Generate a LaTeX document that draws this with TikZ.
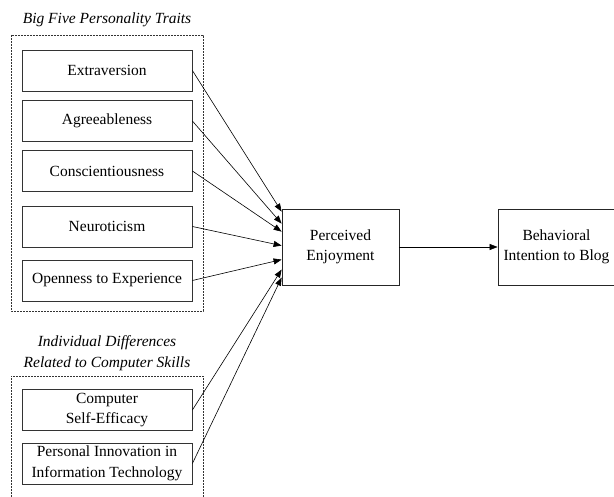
\documentclass[tikz,border=0pt]{standalone}
\usepackage{fontspec}
\setmainfont{Liberation Serif}
\usetikzlibrary{arrows.meta}
\begin{document}
\begin{tikzpicture}[x=1pt,y=-1pt,
  every node/.style={font=\fontsize{15.5}{20.5}\selectfont},
  trait/.style={draw=black!80, line width=0.8pt, minimum width=170pt, minimum height=41pt, inner sep=0pt, align=center},
  bigbox/.style={draw=black!85, line width=0.8pt, minimum width=117pt, minimum height=76pt, inner sep=0pt, align=center},
  group/.style={draw=black!80, line width=0.6pt, dash pattern=on 2pt off 1pt},
  grouptitle/.style={font=\fontsize{15.5}{20.5}\selectfont\itshape, align=center, inner sep=0pt},
  arr/.style={-{Triangle[length=8pt,width=6pt]}, line width=0.6pt, draw=black}]
\useasboundingbox (0,0) rectangle (614,497);
\fill[white] (0,0) rectangle (614,497);
% groups
\draw[group] (11,35) rectangle (203,311);
\draw[group] (11,500) -- (11,376) -- (203,376) -- (203,500);
\node[grouptitle] (t1) at (107,20) {Big Five Personality Traits};
\node[grouptitle] (t2) at (107,353) {Individual Differences\\Related to Computer Skills};
% trait boxes
\node[trait] (E) at (107,70.5) {Extraversion};
\node[trait] (A) at (107,121) {Agreeableness};
\node[trait] (C) at (107,171) {Conscientiousness};
\node[trait] (N) at (107,226.5) {Neuroticism};
\node[trait] (O) at (107,280.5) {Openness to Experience};
\node[trait] (CSE) at (107,410) {Computer\\Self-Efficacy};
\node[trait] (PIIT) at (107,463.5) {Personal Innovation in\\Information Technology};
% main boxes
\node[bigbox] (PE) at (340.5,247) {Perceived\\Enjoyment};
\node[bigbox] (BI) at (556.5,247) {Behavioral\\Intention to Blog};
% arrows
\draw[arr] (E.east) -- ([yshift=-3pt]PE.north west);
\draw[arr] (A.east) -- ([yshift=-15pt]PE.north west);
\draw[arr] (C.east) -- ([yshift=-23pt]PE.north west);
\draw[arr] (N.east) -- ([yshift=-37pt]PE.north west);
\draw[arr] (O.east) -- ([yshift=-51pt]PE.north west);
\draw[arr] (CSE.east) -- ([yshift=-61pt]PE.north west);
\draw[arr] (PIIT.east) -- ([yshift=-69pt]PE.north west);
\draw[arr] (PE.east) -- (BI.west);
\end{tikzpicture}
\end{document}
